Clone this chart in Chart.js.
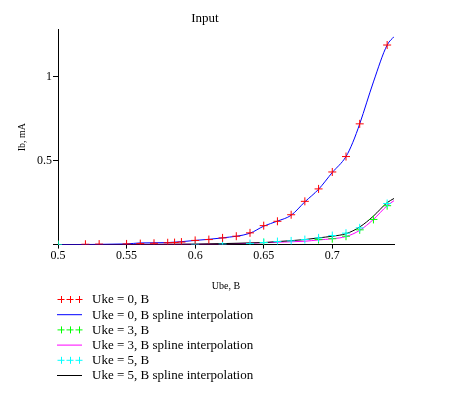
<!DOCTYPE html>
<html>
<head>
<meta charset="utf-8">
<script src="https://cdn.jsdelivr.net/npm/chart.js@4/dist/chart.umd.min.js"></script>
<style>
  body { margin: 0; background: #fff; }
</style>
</head>
<body>
<canvas id="myChart" width="460" height="395"></canvas>
<script>
// Input characteristic, Ib vs Ube

const serif = "'Liberation Serif', 'Times New Roman', serif";

// measured points, Uke = 0 B
const ube0 = [0.52, 0.53, 0.55, 0.56, 0.57, 0.58, 0.585, 0.59, 0.6, 0.61, 0.62, 0.63, 0.64, 0.65, 0.66, 0.67, 0.68, 0.69, 0.7, 0.71, 0.72, 0.74];
const ib0 = [0.002, 0.003, 0.004, 0.006, 0.008, 0.011, 0.012, 0.015, 0.025, 0.03, 0.04, 0.05, 0.07, 0.113, 0.139, 0.178, 0.258, 0.332, 0.433, 0.525, 0.72, 1.19];

// measured points, Uke = 3 B
const ube3 = [0.5, 0.65, 0.69, 0.7, 0.71, 0.72, 0.73, 0.74];
const ib3 = [0, 0.012, 0.03, 0.035, 0.05, 0.088, 0.15, 0.232];

// measured points, Uke = 5 B
const ube5 = [0.5, 0.6, 0.62, 0.64, 0.65, 0.66, 0.67, 0.68, 0.69, 0.7, 0.71, 0.72, 0.74];
const ib5 = [0, 0.002, 0.003, 0.006, 0.012, 0.018, 0.022, 0.03, 0.04, 0.054, 0.068, 0.1, 0.245];

// spline curves
const splineUbe0 = [0.5, 0.55, 0.56, 0.58, 0.6, 0.62, 0.64, 0.65, 0.66, 0.67, 0.68, 0.69, 0.7, 0.71, 0.715, 0.72, 0.73, 0.74, 0.745];
const splineIb0 = [0, 0.004, 0.01, 0.012, 0.025, 0.04, 0.068, 0.11, 0.14, 0.175, 0.255, 0.33, 0.43, 0.525, 0.61, 0.72, 0.97, 1.19, 1.24];
const splineUbe3 = [0.5, 0.6, 0.64, 0.65, 0.68, 0.69, 0.7, 0.71, 0.72, 0.73, 0.74, 0.745];
const splineIb3 = [0, 0.002, 0.008, 0.012, 0.02, 0.028, 0.035, 0.048, 0.085, 0.15, 0.232, 0.262];
const splineUbe5 = [0.5, 0.6, 0.64, 0.65, 0.66, 0.68, 0.69, 0.7, 0.71, 0.72, 0.73, 0.74, 0.745];
const splineIb5 = [0, 0.003, 0.01, 0.012, 0.018, 0.03, 0.04, 0.05, 0.065, 0.105, 0.17, 0.25, 0.275];

const seriesLabels = ['Uke = 0, B', 'Uke = 0, B spline interpolation', 'Uke = 3, B', 'Uke = 3, B spline interpolation', 'Uke = 5, B', 'Uke = 5, B spline interpolation'];
const xTicks = [0.5, 0.55, 0.6, 0.65, 0.7];
const yTicks = [0.5, 1];

function pts(xs, ys) {
    return xs.map((x, i) => ({x: x, y: ys[i]}));
}

function markers(label, xs, ys, color, order) {
    return {
        label: label, data: pts(xs, ys), showLine: false,
        pointStyle: 'cross', pointRadius: 4, pointBorderWidth: 1,
        borderColor: color, backgroundColor: color, order: order
    };
}

function spline(label, xs, ys, color, order) {
    return {
        label: label, data: pts(xs, ys), showLine: true,
        cubicInterpolationMode: 'monotone', pointRadius: 0,
        borderWidth: 1, borderColor: color, backgroundColor: color, order: order
    };
}

// legend drawn as a list under the plot, one item per row
const listLegend = {
    id: 'listLegend',
    afterDraw(chart) {
        const ctx = chart.ctx;
        ctx.save();
        ctx.font = '13px ' + serif;
        ctx.textBaseline = 'middle';
        chart.data.datasets.forEach((ds, i) => {
            const y = 299 + i * 15.2;
            ctx.strokeStyle = ds.borderColor;
            ctx.lineWidth = 1;
            ctx.beginPath();
            if (ds.showLine) {
                ctx.moveTo(57, y + 0.5);
                ctx.lineTo(82, y + 0.5);
            } else {
                for (const cx of [61, 70, 79]) {
                    ctx.moveTo(cx - 3.5, y + 0.5);
                    ctx.lineTo(cx + 3.5, y + 0.5);
                    ctx.moveTo(cx + 0.5, y - 3);
                    ctx.lineTo(cx + 0.5, y + 4);
                }
            }
            ctx.stroke();
            ctx.fillStyle = '#000';
            ctx.fillText(ds.label, 92, y + 1);
        });
        ctx.restore();
    }
};

let ctx = document.getElementById('myChart').getContext('2d');
let myChart = new Chart(ctx, {
    type: 'scatter',
    data: {
        datasets: [
            markers(seriesLabels[0], ube0, ib0, '#ff0000', 1),
            spline(seriesLabels[1], splineUbe0, splineIb0, '#0000ff', 4),
            markers(seriesLabels[2], ube3, ib3, '#00ff00', 3),
            spline(seriesLabels[3], splineUbe3, splineIb3, '#ff00ff', 6),
            markers(seriesLabels[4], ube5, ib5, '#00ffff', 2),
            spline(seriesLabels[5], splineUbe5, splineIb5, '#000000', 5)
        ]
    },
    options: {
        responsive: false,
        animation: false,
        layout: { padding: { left: 16, right: 66, top: 0, bottom: 103 } },
        plugins: {
            legend: { display: false },
            tooltip: { enabled: false },
            title: {
                display: true, text: 'Input', color: '#000',
                font: { family: serif, size: 13, weight: 'normal' },
                padding: { top: 11, bottom: 3 }
            }
        },
        scales: {
            x: {
                type: 'linear', min: 0.5, max: 0.745,
                afterBuildTicks: (s) => { s.ticks = xTicks.map(v => ({value: v})); },
                ticks: {
                    color: '#000', padding: 0,
                    font: { family: serif, size: 12 },
                    callback: (v) => String(+v.toFixed(3))
                },
                grid: { drawOnChartArea: false, tickLength: 4, tickColor: '#000' },
                border: { color: '#000', width: 1 },
                title: {
                    display: true, text: 'Ube, B', color: '#000',
                    font: { family: serif, size: 10 }, padding: { top: 17, bottom: 0 }
                }
            },
            y: {
                type: 'linear', min: 0, max: 1.282,
                afterBuildTicks: (s) => { s.ticks = [0].concat(yTicks).map(v => ({value: v})); },
                ticks: {
                    color: '#000', padding: 1,
                    font: { family: serif, size: 12 },
                    callback: (v) => v === 0 ? '' : String(+v.toFixed(2))
                },
                grid: { drawOnChartArea: false, tickLength: 5, tickColor: '#000' },
                border: { color: '#000', width: 1 },
                title: {
                    display: true, text: 'Ib, mA', color: '#000',
                    font: { family: serif, size: 10 }, padding: { top: 0, bottom: 8 }
                }
            }
        }
    },
    plugins: [listLegend]
});
</script>
</body>
</html>
